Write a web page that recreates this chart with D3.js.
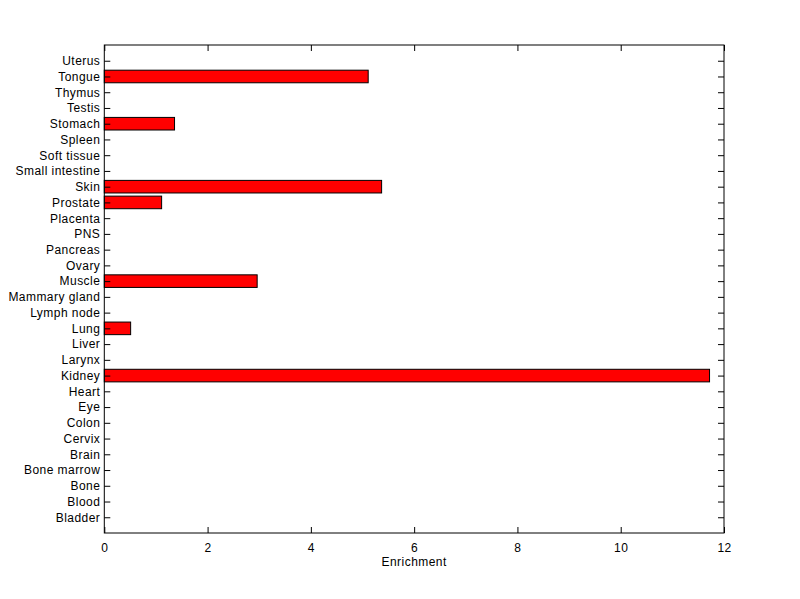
<!DOCTYPE html>
<html><head><meta charset="utf-8">
<script src="https://cdn.jsdelivr.net/npm/d3@7"></script>
<style>body{margin:0;background:#fff}svg text{font-family:"Liberation Sans",Arial,sans-serif;font-size:12px;fill:#000;letter-spacing:0.45px}</style>
</head><body>
<svg id="c" width="800" height="599"></svg>
<script>
const categories = ["Bladder","Blood","Bone","Bone marrow","Brain","Cervix","Colon","Eye","Heart","Kidney","Larynx","Liver","Lung","Lymph node","Mammary gland","Muscle","Ovary","Pancreas","PNS","Placenta","Prostate","Skin","Small intestine","Soft tissue","Spleen","Stomach","Testis","Thymus","Tongue","Uterus"];
const values = [0,0,0,0,0,0,0,0,0,11.72,0,0,0.51,0,0,2.96,0,0,0,0,1.11,5.37,0,0,0,1.36,0,0,5.11,0];
const xTicks = [0,2,4,6,8,10,12];
const xLabel = "Enrichment";

const L=104.3, R=724, T=45, B=533;
const svg=d3.select("#c");
svg.append("rect").attr("width",800).attr("height",599).attr("fill","#fff");
const x=d3.scaleLinear().domain([0,12]).range([L,R]);
const y=d3.scaleLinear().domain([0,categories.length+1]).range([B,T]);
const bw=(y(0)-y(1))*0.8;

svg.selectAll("rect.bar").data(values.map((v,i)=>({v,i}))).enter().filter(d=>d.v>0)
  .append("rect").attr("class","bar")
  .attr("x",x(0)).attr("y",d=>y(d.i+1)-bw/2)
  .attr("width",d=>x(d.v)-x(0)).attr("height",bw)
  .attr("fill","#ff0000").attr("stroke","#000").attr("stroke-width",1);

const tl=6;
const gb=svg.append("g").attr("transform",`translate(0,${B})`)
  .call(d3.axisBottom(x).tickValues(xTicks).tickSize(-tl).tickPadding(8).tickFormat(d3.format("d")));
const gt=svg.append("g").attr("transform",`translate(0,${T})`)
  .call(d3.axisTop(x).tickValues(xTicks).tickSize(-tl).tickFormat(""));
const yt=categories.map((c,i)=>i+1);
const gl=svg.append("g").attr("transform",`translate(${L},0)`)
  .call(d3.axisLeft(y).tickValues(yt).tickSize(-tl).tickPadding(4).tickFormat(d=>categories[d-1]));
const gr=svg.append("g").attr("transform",`translate(${R},0)`)
  .call(d3.axisRight(y).tickValues(yt).tickSize(-tl).tickFormat(""));
[gb,gt,gl,gr].forEach(g=>{g.select(".domain").remove();g.selectAll("line").attr("stroke","#000");g.selectAll("text").attr("font-size",12).attr("font-family","Liberation Sans, Arial, sans-serif");});
gb.selectAll("text").attr("dy","0.9em");
svg.append("rect").attr("x",L).attr("y",T).attr("width",R-L).attr("height",B-T)
  .attr("fill","none").attr("stroke","#000").attr("stroke-width",1);
svg.append("text").attr("x",(L+R)/2).attr("y",566).attr("text-anchor","middle").text(xLabel);
</script>
</body></html>
